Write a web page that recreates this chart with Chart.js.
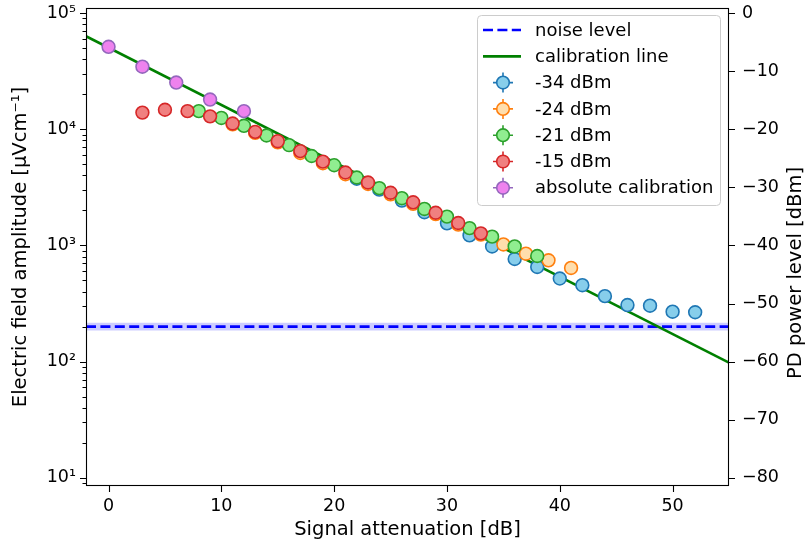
<!DOCTYPE html>
<html>
<head>
<meta charset="utf-8">
<script src="https://cdn.jsdelivr.net/npm/chart.js@4"></script>
<style>
  body { margin: 0; background: #fff; }
  #wrap { width: 806px; height: 550px; position: relative; }
</style>
</head>
<body>
<div id="wrap"><canvas id="calChart"></canvas></div>
<script>
// Data
const atten34 = [22, 24, 26, 28, 30, 32, 34, 36, 38, 40, 42, 44, 46, 48, 50, 52];
const field34 = [3750, 3020, 2430, 1930, 1550, 1220, 980, 764, 653, 519, 455, 366, 307, 303, 269, 266];

const atten24 = [11, 13, 15, 17, 19, 21, 23, 25, 27, 29, 31, 33, 35, 37, 39, 41];
const field24 = [11000, 9300, 7700, 6250, 5100, 4100, 3380, 2750, 2280, 1860, 1510, 1240, 1020, 849, 745, 640];

const atten21 = [8, 10, 12, 14, 16, 18, 20, 22, 24, 26, 28, 30, 32, 34, 36, 38];
const field21 = [14300, 12500, 10700, 8830, 7290, 5880, 4900, 3840, 3110, 2550, 2060, 1770, 1410, 1190, 980, 811];

const atten15 = [3, 5, 7, 9, 11, 13, 15, 17, 19, 21, 23, 25, 27, 29, 31, 33];
const field15 = [13900, 14700, 14300, 12900, 11200, 9490, 7890, 6480, 5260, 4240, 3480, 2840, 2350, 1910, 1560, 1270];

const attenAbs = [0, 3, 6, 9, 12];
const fieldAbs = [51200, 34500, 25200, 18000, 14300];

const calX = [-2, 55];
const calY = [63100, 98];

const noiseX = [-2, 55];
const noiseY = [200, 200];
const noiseLow = [185, 185];
const noiseHigh = [216, 216];

const xTicks = [0, 10, 20, 30, 40, 50];
const rightTicks = [0, -10, -20, -30, -40, -50, -60, -70, -80];

const pts = (xs, ys) => xs.map((x, i) => ({ x: x, y: ys[i] }));

const FONT = 'DejaVu Sans';
Chart.defaults.font.family = FONT;
Chart.defaults.font.size = 17.5;
Chart.defaults.color = '#000';

const sup = { '0': '⁰', '1': '¹', '2': '²', '3': '³', '4': '⁴', '5': '⁵', '6': '⁶' };
const isDecade = v => Math.abs(Math.log10(v) - Math.round(Math.log10(v))) < 1e-9;
const minus = v => (v < 0 ? '\u2212' + Math.abs(v) : String(v));

function markerSeries(label, xs, ys, fill, edge, order) {
  return {
    label: label, data: pts(xs, ys), order: order,
    backgroundColor: fill, borderColor: edge,
    pointRadius: 6.4, pointBorderWidth: 1.6, pointHoverRadius: 6.4,
    showLine: false
  };
}

const datasets = [
  { label: 'band low', data: pts(noiseX, noiseLow), showLine: true, pointRadius: 0,
    borderWidth: 0, borderColor: 'rgba(0,0,0,0)', fill: false, order: 9 },
  { label: 'band high', data: pts(noiseX, noiseHigh), showLine: true, pointRadius: 0,
    borderWidth: 0, borderColor: 'rgba(0,0,0,0)', backgroundColor: 'rgba(0,0,255,0.2)',
    fill: 0, order: 8 },
  { label: 'noise level', data: pts(noiseX, noiseY), showLine: true, pointRadius: 0,
    borderColor: '#0000ff', borderWidth: 2.7, borderDash: [10, 4.4], fill: false, order: 7 },
  { label: 'calibration line', data: pts(calX, calY), showLine: true, pointRadius: 0,
    borderColor: '#008000', borderWidth: 2.7, fill: false, order: 6 },
  markerSeries('-34 dBm', atten34, field34, '#87ceeb', '#1f77b4', 5),
  markerSeries('-24 dBm', atten24, field24, '#ffdead', '#ff7f0e', 4),
  markerSeries('-21 dBm', atten21, field21, '#90ee90', '#2ca02c', 3),
  markerSeries('-15 dBm', atten15, field15, '#f08080', '#d62728', 2),
  markerSeries('absolute calibration', attenAbs, fieldAbs, '#ee82ee', '#9467bd', 1)
];

// ticks, frame, right title and matplotlib-like legend
const decor = {
  id: 'decor',
  afterDraw(chart) {
    const { ctx, chartArea: a, scales } = chart;
    ctx.save();
    ctx.strokeStyle = '#000';
    ctx.lineWidth = 1.1;
    ctx.beginPath();
    scales.x.ticks.forEach(t => {
      const px = Math.round(scales.x.getPixelForValue(t.value)) + 0.5;
      ctx.moveTo(px, a.bottom); ctx.lineTo(px, a.bottom + 6);
    });
    scales.y.ticks.forEach(t => {
      const py = Math.round(scales.y.getPixelForValue(t.value)) + 0.5;
      const len = isDecade(t.value) ? 6 : 3.5;
      ctx.moveTo(a.left, py); ctx.lineTo(a.left - len, py);
    });
    scales.y2.ticks.forEach(t => {
      const py = Math.round(scales.y2.getPixelForValue(t.value)) + 0.5;
      ctx.moveTo(a.right, py); ctx.lineTo(a.right + 6, py);
    });
    ctx.stroke();
    ctx.lineWidth = 1.1;
    ctx.strokeRect(a.left + 0.5, a.top + 0.5, a.right - a.left - 1, a.bottom - a.top - 1);

    // right axis title, reading bottom to top
    ctx.save();
    ctx.translate(796, 273);
    ctx.rotate(-Math.PI / 2);
    ctx.font = '19.5px "' + FONT + '"';
    ctx.textAlign = 'center';
    ctx.textBaseline = 'middle';
    ctx.fillStyle = '#000';
    ctx.fillText('PD power level [dBm]', 0, 0);
    ctx.restore();

    // legend
    const bx = 477, by = 15, bw = 243, bh = 190;
    ctx.beginPath();
    ctx.roundRect(bx + 0.5, by + 0.5, bw, bh, 4);
    ctx.fillStyle = 'rgba(255,255,255,0.8)';
    ctx.fill();
    ctx.strokeStyle = '#cccccc';
    ctx.lineWidth = 1;
    ctx.stroke();

    const rowY0 = 30, rowDy = 26.3;
    ctx.font = '18px "' + FONT + '"';
    ctx.textBaseline = 'middle';
    ctx.textAlign = 'left';
    const legendItems = [2, 3, 4, 5, 6, 7, 8];
    legendItems.forEach((di, i) => {
      const ds = chart.data.datasets[di];
      const y = rowY0 + i * rowDy;
      if (ds.showLine) {
        ctx.save();
        ctx.strokeStyle = ds.borderColor;
        ctx.lineWidth = ds.borderWidth;
        ctx.setLineDash(ds.borderDash || []);
        ctx.beginPath();
        ctx.moveTo(483, y); ctx.lineTo(521, y);
        ctx.stroke();
        ctx.restore();
      } else {
        const cx = 503;
        ctx.save();
        ctx.strokeStyle = ds.borderColor;
        ctx.lineWidth = 1.6;
        ctx.beginPath();
        ctx.moveTo(cx - 10, y); ctx.lineTo(cx + 10, y);
        ctx.moveTo(cx, y - 10); ctx.lineTo(cx, y + 10);
        ctx.stroke();
        ctx.beginPath();
        ctx.arc(cx, y, 6.3, 0, Math.PI * 2);
        ctx.fillStyle = ds.backgroundColor;
        ctx.fill();
        ctx.stroke();
        ctx.restore();
      }
      ctx.fillStyle = '#000';
      ctx.fillText(ds.label, 535, y + 1);
    });
    ctx.restore();
  }
};

const ctx = document.getElementById('calChart').getContext('2d');
const calChart = new Chart(ctx, {
  type: 'scatter',
  data: { datasets: datasets },
  options: {
    responsive: true,
    maintainAspectRatio: false,
    animation: false,
    layout: { padding: { top: 6, left: 0, right: 0, bottom: 0 } },
    plugins: {
      legend: { display: false },
      tooltip: { enabled: false }
    },
    scales: {
      x: {
        type: 'linear', position: 'bottom',
        min: -2, max: 55,
        grid: { display: true, drawOnChartArea: false, drawTicks: true, tickLength: 6, color: 'rgba(0,0,0,0)' },
        border: { display: false },
        afterBuildTicks: s => { s.ticks = xTicks.map(v => ({ value: v })); },
        ticks: { padding: 4, autoSkip: false, maxRotation: 0, callback: v => String(v) },
        title: { display: true, text: 'Signal attenuation [dB]', font: { size: 19.5 }, padding: { top: 0, bottom: 8 } },
        afterFit: s => { s.height = 64; s.paddingLeft = 0; s.paddingRight = 0; }
      },
      y: {
        type: 'logarithmic', position: 'left',
        min: Math.pow(10, 0.93), max: Math.pow(10, 5.043),
        grid: { display: true, drawOnChartArea: false, drawTicks: true, tickLength: 6, color: 'rgba(0,0,0,0)' },
        border: { display: false },
        afterBuildTicks: s => {
          const t = [];
          for (let e = 0; e <= 5; e++) {
            for (let m = 1; m <= 9; m++) {
              const v = m * Math.pow(10, e);
              if (v >= s.min && v <= s.max) t.push({ value: v });
            }
          }
          s.ticks = t;
        },
        ticks: {
          padding: 4, autoSkip: false,
          callback: v => isDecade(v) ? '10' + sup[String(Math.round(Math.log10(v)))] : ''
        },
        title: { display: true, text: 'Electric field amplitude [μVcm⁻¹]', font: { size: 19.5 }, padding: { top: 9, bottom: 0 } },
        afterFit: s => { s.width = 86; s.paddingTop = 0; s.paddingBottom = 0; }
      },
      y2: {
        type: 'linear', position: 'right',
        min: 20 * 0.93 - 100, max: 20 * 5.043 - 100,
        grid: { display: true, drawOnChartArea: false, drawTicks: true, tickLength: 6, color: 'rgba(0,0,0,0)' },
        border: { display: false },
        afterBuildTicks: s => { s.ticks = rightTicks.map(v => ({ value: v })); },
        ticks: { padding: 7, autoSkip: false, callback: v => minus(v) },
        title: { display: false },
        afterFit: s => { s.width = 77; s.paddingTop = 0; s.paddingBottom = 0; }
      }
    }
  },
  plugins: [decor]
});
</script>
</body>
</html>
